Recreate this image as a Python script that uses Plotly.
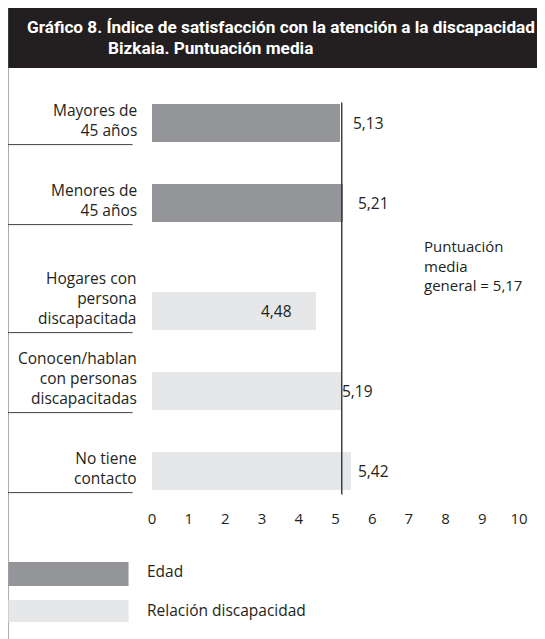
import plotly.graph_objects as go

# datos
categorias = ["Mayores de<br>45 años", "Menores de<br>45 años",
              "Hogares con<br>persona<br>discapacitada",
              "Conocen/hablan<br>con personas<br>discapacitadas",
              "No tiene<br>contacto"]
grupos = ["Edad", "Edad", "Relación discapacidad",
          "Relación discapacidad", "Relación discapacidad"]
valores = [5.13, 5.21, 4.48, 5.19, 5.42]
etiquetas = ["5,13", "5,21", "4,48", "5,19", "5,42"]
media_general = 5.17
texto_media = "Puntuación<br>media<br>general = 5,17"
series = ["Edad", "Relación discapacidad"]
colores = {"Edad": "#939598", "Relación discapacidad": "#e6e7e8"}
ticks_x = list(range(0, 11))

titulo_1 = "Gráfico 8. Índice de satisfacción con la atención a la discapacidad en"
titulo_2 = "Bizkaia. Puntuación media"

# geometria (px de pantalla; la pagina añade 8 px de margen)
W, H = 545, 639
OFF = 8
L, R = 151.5 - OFF, 519.5 - OFF
T, B = 68 - OFF, 495 - OFF
FONT = "Open Sans"
TXT = "#231f20"


def px(x):
    return (x - OFF - L) / (R - L)


def py(y):
    return 1 - (y - OFF - T) / (B - T)


# posiciones verticales: un hueco extra entre grupos
GAP = 0.35
pos = []
for i, g in enumerate(grupos):
    pos.append(i + GAP * series.index(g))
ancho = 0.47

fig = go.Figure()
for s in series:
    idx = [i for i, g in enumerate(grupos) if g == s]
    fig.add_trace(go.Bar(
        x=[valores[i] for i in idx],
        y=[pos[i] for i in idx],
        orientation="h",
        width=ancho,
        marker=dict(color=colores[s], line=dict(width=0)),
        name=s,
        showlegend=False,
        hoverinfo="skip",
    ))

shapes = []
annotations = []

# marco y banda del titulo
shapes.append(dict(type="rect", xref="paper", yref="paper",
                   x0=px(7), x1=px(560), y0=py(8), y1=py(68),
                   fillcolor="#231f20", line=dict(width=0), layer="below"))
shapes.append(dict(type="line", xref="paper", yref="paper",
                   x0=px(7), x1=px(560), y0=py(7.5), y1=py(7.5),
                   line=dict(color="#c7c8ca", width=1)))
shapes.append(dict(type="line", xref="paper", yref="paper",
                   x0=px(7), x1=px(7), y0=py(8), y1=py(660),
                   line=dict(color="#58595b", width=1.2)))
shapes.append(dict(type="line", xref="paper", yref="paper",
                   x0=px(543.8), x1=px(543.8), y0=py(68), y1=py(660),
                   line=dict(color="#808285", width=1.2)))

annotations.append(dict(xref="paper", yref="paper", x=px(24), y=py(27),
                        text=f"<b>{titulo_1}</b>", showarrow=False,
                        xanchor="left", yanchor="middle",
                        font=dict(family="Roboto", size=17.2, color="white")))
annotations.append(dict(xref="paper", yref="paper", x=px(105), y=py(48),
                        text=f"<b>{titulo_2}</b>", showarrow=False,
                        xanchor="left", yanchor="middle",
                        font=dict(family="Roboto", size=17.2, color="white")))

# etiquetas de categoria y separadores
for i, cat in enumerate(categorias):
    fondo = pos[i] + ancho / 2
    annotations.append(dict(x=px(138), xref="paper", y=fondo, yref="y",
                            text=cat, showarrow=False, align="right",
                            xanchor="right", yanchor="bottom", yshift=-1,
                            font=dict(family=FONT, size=15.5, color=TXT)))
    shapes.append(dict(type="line", xref="paper", yref="y",
                       x0=px(7), x1=px(132), y0=fondo + 0.035, y1=fondo + 0.035,
                       line=dict(color="#414042", width=1)))

# valores
desplaz = [11, 13, -57, -2, 5]
for i, et in enumerate(etiquetas):
    annotations.append(dict(x=valores[i], y=pos[i], text=et, showarrow=False,
                            xanchor="left", yanchor="middle", xshift=desplaz[i],
                            font=dict(family=FONT, size=15.5, color=TXT)))

# linea de media general
shapes.append(dict(type="line", xref="x", yref="y",
                   x0=media_general, x1=media_general,
                   y0=pos[0] - ancho / 2 - 0.02, y1=pos[-1] + ancho / 2 + 0.06,
                   line=dict(color="#414042", width=1.5)))
annotations.append(dict(xref="paper", yref="paper", x=px(422), y=py(265),
                        text=texto_media, showarrow=False, align="left",
                        xanchor="left", yanchor="middle",
                        font=dict(family=FONT, size=15, color=TXT)))

# leyenda
ley_y = [(562, 586, 571), (600, 622, 610)]
for s, (y0, y1, yt) in zip(series, ley_y):
    shapes.append(dict(type="rect", xref="paper", yref="paper",
                       x0=px(7.5), x1=px(128), y0=py(y0), y1=py(y1),
                       fillcolor=colores[s], line=dict(width=0)))
    annotations.append(dict(xref="paper", yref="paper", x=px(144), y=py(yt),
                            text=s, showarrow=False, xanchor="left", yanchor="middle",
                            font=dict(family=FONT, size=15.5, color=TXT)))

fig.update_layout(
    width=W, height=H,
    margin=dict(l=L, r=W - R, t=T, b=H - B, pad=0),
    paper_bgcolor="white", plot_bgcolor="white",
    bargap=0,
    showlegend=False,
    shapes=shapes,
    annotations=annotations,
    xaxis=dict(range=[0, 10], tickvals=ticks_x, ticktext=[str(t) for t in ticks_x],
               showgrid=False, zeroline=False, showline=False, ticks="",
               ticklabelstandoff=13,
               tickfont=dict(family=FONT, size=15, color=TXT), fixedrange=True),
    yaxis=dict(range=[(B - T) / 80 + (T - (123 - OFF)) / 80, (T - (123 - OFF)) / 80],
               showticklabels=False,
               showgrid=False, zeroline=False, showline=False, ticks="",
               fixedrange=True),
)

fig.write_html("out.html", config={"displayModeBar": False})
